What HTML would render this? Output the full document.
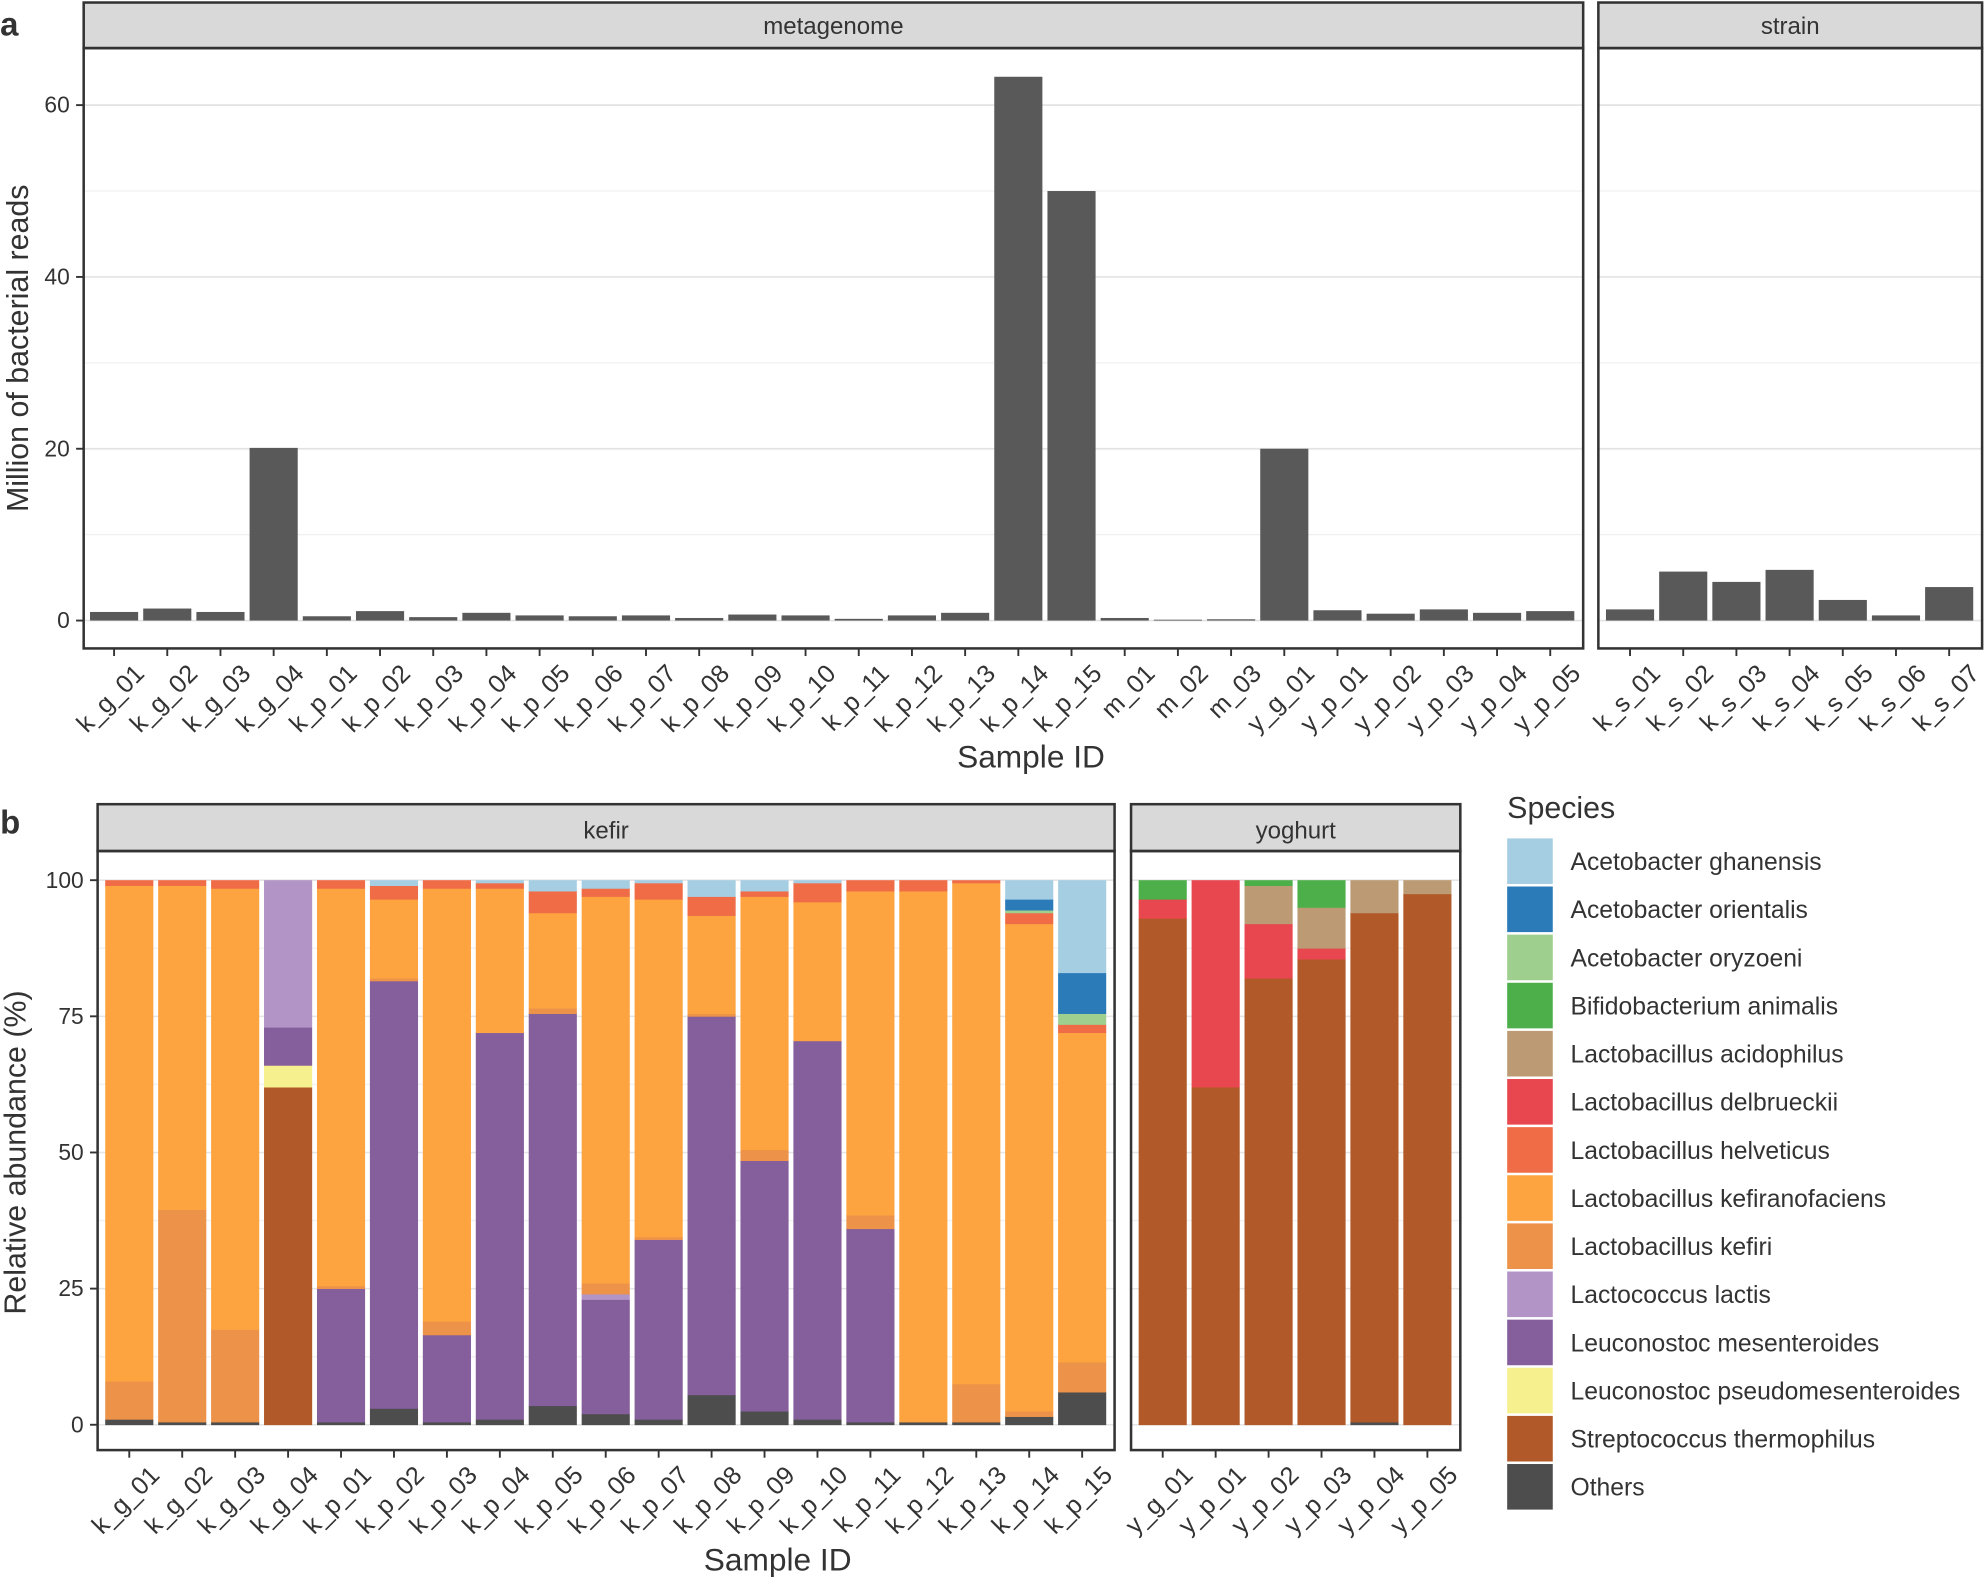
<!DOCTYPE html><html><head><meta charset="utf-8"><style>body{margin:0;background:#fff}svg{display:block}text{font-family:"Liberation Sans",Arial,sans-serif;fill:#333}</style></head><body>
<svg id="s" width="1986" height="1578" viewBox="0 0 1568 1246" xmlns="http://www.w3.org/2000/svg"></svg>
<script>
const S=document.getElementById('s');let h='';
function R(x,y,w,hh,f,ex=''){h+=`<rect x="${x}" y="${y}" width="${w}" height="${hh}" fill="${f}" ${ex}/>`;}
function T(x,y,t,sz,ex=''){h+=`<text x="${x}" y="${y}" font-size="${sz}" ${ex}>${t}</text>`;}
function L(x1,y1,x2,y2,c,w){h+=`<line x1="${x1}" y1="${y1}" x2="${x2}" y2="${y2}" stroke="${c}" stroke-width="${w}"/>`;}
const y0=490,k=(490-83)/60;
function panelA(x1,x2,lab,names,vals,c0){
 R(x1,2,x2-x1,36,'#d9d9d9','stroke="#333" stroke-width="2"');T((x1+x2)/2,27,lab,19,'text-anchor="middle" fill="#1a1a1a"');
 for(let v=0;v<=60;v+=10){const y=y0-v*k;if(y>40)L(x1,y,x2,y,v%20?'#f0f0f0':'#e3e3e3',v%20?1:1.3);}
 names.forEach((n,i)=>{const cx=c0+i*42;R(cx-19,y0-vals[i]*k,38,vals[i]*k,'#595959');
  L(cx,512,cx,518,'#333',1.5);T(cx+25,533,n,20,`text-anchor="end" transform="rotate(-45 ${cx+25} 533)" fill="#4d4d4d"`);});
 R(x1,38,x2-x1,474,'none','stroke="#333" stroke-width="2"');
}
const mn=['k_g_01','k_g_02','k_g_03','k_g_04'];for(let i=1;i<=15;i++)mn.push('k_p_'+String(i).padStart(2,'0'));mn.push('m_01','m_02','m_03','y_g_01');for(let i=1;i<=5;i++)mn.push('y_p_0'+i);
panelA(66,1250,'metagenome',mn,[1,1.4,1,20.1,.5,1.1,.4,.9,.6,.5,.6,.3,.7,.6,.2,.6,.9,63.3,50,.3,.1,.15,20,1.2,.8,1.3,.9,1.1],90);
const sn=[];for(let i=1;i<=7;i++)sn.push('k_s_0'+i);
panelA(1262,1565,'strain',sn,[1.3,5.7,4.5,5.9,2.4,.6,3.9],1287);
[0,20,40,60].forEach(v=>{const y=y0-v*k;L(60,y,66,y,'#333',1.5);T(55,y+6,v,18,'text-anchor="end" fill="#4d4d4d"');});
T(22,275,'Million of bacterial reads',24,'text-anchor="middle" transform="rotate(-90 22 275)" fill="#000"');
T(814,606,'Sample ID',25,'text-anchor="middle" fill="#000"');
T(0,28,'a',26,'font-weight="bold" fill="#000"');T(0,658,'b',26,'font-weight="bold" fill="#000"');
const sp=[['Acetobacter ghanensis','#a6cee3'],['Acetobacter orientalis','#2b7bb9'],['Acetobacter oryzoeni','#9ecf8f'],['Bifidobacterium animalis','#4daf4a'],['Lactobacillus acidophilus','#bc9b74'],['Lactobacillus delbrueckii','#e9474f'],['Lactobacillus helveticus','#ef6c47'],['Lactobacillus kefiranofaciens','#fda440'],['Lactobacillus kefiri','#ec9249'],['Lactococcus lactis','#b294c7'],['Leuconostoc mesenteroides','#855e9c'],['Leuconostoc pseudomesenteroides','#f7f08e'],['Streptococcus thermophilus','#b15928'],['Others','#4d4d4d']];
const C={};sp.forEach(s=>{const p=s[0].split(' ');C[p[1]||p[0]]=s[1];});
const ord=['Others','thermophilus','pseudomesenteroides','mesenteroides','lactis','kefiri','kefiranofaciens','helveticus','delbrueckii','acidophilus','animalis','oryzoeni','orientalis','ghanensis'];
const kef=[[1,0,0,0,0,7,91,1],[.5,0,0,0,0,39,59.5,1],[.5,0,0,0,0,17,81,1.5],[0,62,4,7,27,0,0,0],[.5,0,0,24.5,0,.5,73,1.5],[3,0,0,78.5,0,.5,14.5,2.5,0,0,0,0,0,1],[.5,0,0,16,0,2.5,79.5,1.5],[1,0,0,71,0,0,26.5,1,0,0,0,0,0,.5],[3.5,0,0,72,0,1,17.5,4,0,0,0,0,0,2],[2,0,0,21,1,2,71,1.5,0,0,0,0,0,1.5],[1,0,0,33,0,.5,62,3,0,0,0,0,0,.5],[5.5,0,0,69.5,0,.5,18,3.5,0,0,0,0,0,3],[2.5,0,0,46,0,2,46.5,1,0,0,0,0,0,2],[1,0,0,69.5,0,0,25.5,3.5,0,0,0,0,0,.5],[.5,0,0,35.5,0,2.5,59.5,2],[.5,0,0,0,0,0,97.5,2],[.5,0,0,0,0,7,92,.5],[1.5,0,0,0,0,1,89.5,2,0,0,0,.5,2,3.5],[6,0,0,0,0,5.5,60.5,1.5,0,0,0,2,7.5,17]];
const yog=[[0,93,0,0,0,0,0,0,3.5,0,3.5],[0,62,0,0,0,0,0,0,38],[0,82,0,0,0,0,0,0,10,7,1],[0,85.5,0,0,0,0,0,0,2,7.5,5],[.5,93.5,0,0,0,0,0,0,0,6],[0,97.5,0,0,0,0,0,0,0,2.5]];
const b0=1125,kb=4.3;
function panelB(x1,x2,lab,names,data,c0){
 R(x1,635,x2-x1,37,'#d9d9d9','stroke="#333" stroke-width="2"');T((x1+x2)/2,662,lab,19,'text-anchor="middle" fill="#1a1a1a"');
 for(let v=0;v<=100;v+=12.5){const y=b0-v*kb;L(x1,y,x2,y,v%25?'#f2f2f2':'#e5e5e5',1.2);}
 names.forEach((n,i)=>{const cx=c0+i*41.8;let y=b0;const d=data[i];let tot=d.reduce((a,b)=>a+b,0);const sc=100/tot;
  d.forEach((v,j)=>{if(!v)return;const hh=v*sc*kb;y-=hh;R(cx-19,y,38,hh+.3,C[ord[j]]);});
  L(cx,1145,cx,1151,'#333',1.5);T(cx+25,1166,n,20,`text-anchor="end" transform="rotate(-45 ${cx+25} 1166)" fill="#4d4d4d"`);});
 R(x1,672,x2-x1,473,'none','stroke="#333" stroke-width="2"');
}
panelB(77,880,'kefir',mn.slice(0,19),kef,102);
panelB(893,1153,'yoghurt',['y_g_01','y_p_01','y_p_02','y_p_03','y_p_04','y_p_05'],yog,918);
[0,25,50,75,100].forEach(v=>{const y=b0-v*kb;L(71,y,77,y,'#333',1.5);T(66,y+6,v,18,'text-anchor="end" fill="#4d4d4d"');});
T(20,910,'Relative abundance (%)',24,'text-anchor="middle" transform="rotate(-90 20 910)" fill="#000"');
T(614,1240,'Sample ID',25,'text-anchor="middle" fill="#000"');
T(1190,646,'Species',24,'fill="#000"');
sp.forEach((s,i)=>{const y=662+i*38;R(1190,y,36,36,s[1]);T(1240,y+25,s[0],19.5,'fill="#000"');});
S.innerHTML=h;
</script></body></html>
